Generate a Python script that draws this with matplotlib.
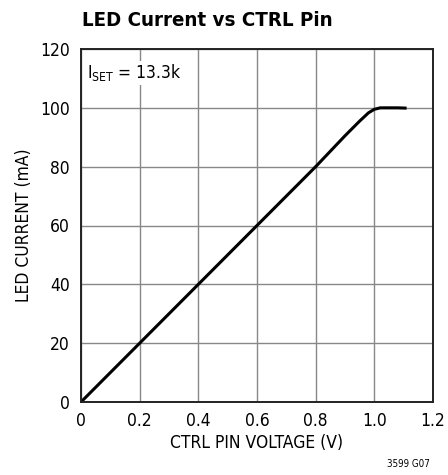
import matplotlib
matplotlib.use("Agg")
import matplotlib.pyplot as plt

ctrl_v = [0.0, 0.2, 0.4, 0.6, 0.8, 0.9, 0.95, 0.98, 1.0, 1.02, 1.05, 1.08, 1.11]
led_ma = [0.0, 20.0, 40.0, 60.0, 80.0, 90.5, 95.5, 98.3, 99.5, 100.0, 100.0, 100.0, 99.9]
xticks = [0, 0.2, 0.4, 0.6, 0.8, 1.0, 1.2]
xticklabels = ["0", "0.2", "0.4", "0.6", "0.8", "1.0", "1.2"]
yticks = [0, 20, 40, 60, 80, 100, 120]

plt.rcParams['font.family'] = ['DejaVu Sans']
plt.rcParams['font.stretch'] = 'condensed'

fig = plt.figure(figsize=(4.48, 4.75), dpi=100)
ax = fig.add_axes([81/448, 1-402/475, (433-81)/448, (402-49)/475])
ax.plot(ctrl_v, led_ma, color='black', lw=2.2, solid_capstyle='butt')
ax.set_xlim(0, 1.2)
ax.set_ylim(0, 120)
ax.set_xticks(xticks)
ax.set_xticklabels(xticklabels)
ax.set_yticks(yticks)
ax.grid(True, color='#888888', lw=1)
ax.tick_params(axis='y', length=0, labelsize=12.5, pad=8)
ax.tick_params(axis='x', length=0, labelsize=12.5, pad=7)
for s in ax.spines.values():
    s.set_linewidth(1.4)
    s.set_color('#222222')
ax.set_xlabel('CTRL PIN VOLTAGE (V)', fontsize=12.5, labelpad=3)
ax.set_ylabel('LED CURRENT (mA)', fontsize=12.5, labelpad=5)
ax.text(0.02, 115.5, r'I$_{\mathregular{SET}}$ = 13.3k', fontsize=12.5, va='top', ha='left',
        bbox=dict(facecolor='white', edgecolor='none', pad=1))
fig.text(207/448, 1-20/475, 'LED Current vs CTRL Pin', fontsize=14.7, fontweight='bold',
         ha='center', va='center')
fig.text(430/448, 1-464/475, '3599 G07', fontsize=7, ha='right', va='center')
fig.savefig('out.png', dpi=100)
